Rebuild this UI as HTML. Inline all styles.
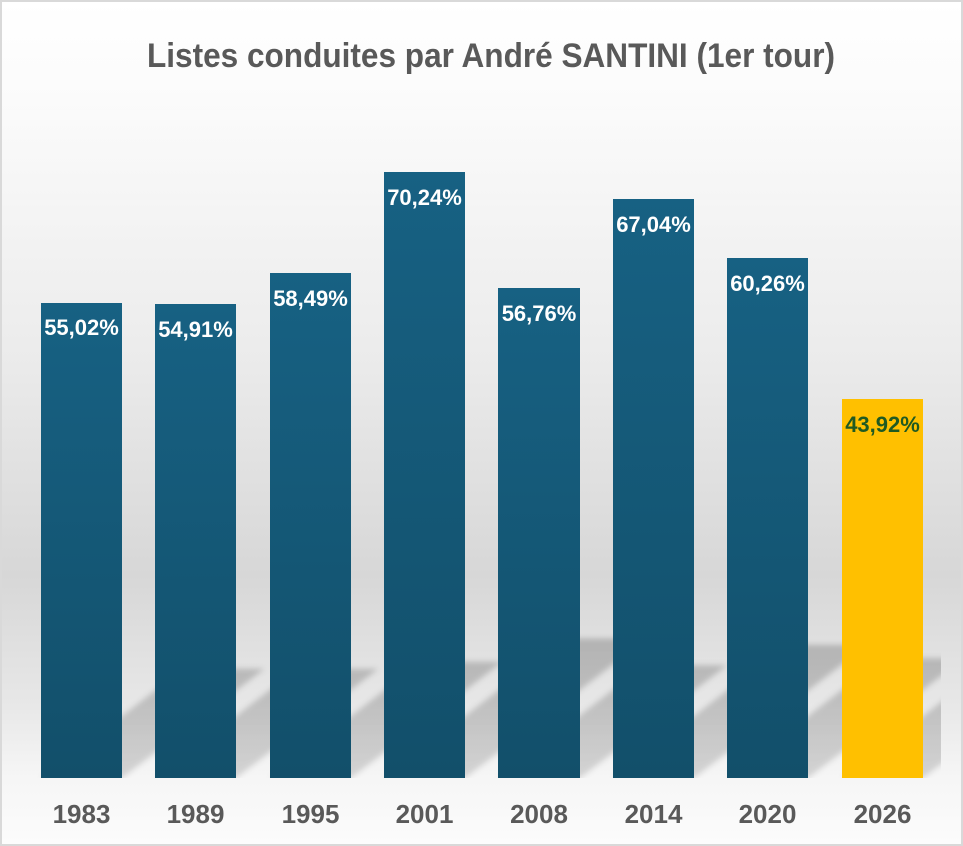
<!DOCTYPE html>
<html>
<head>
<meta charset="utf-8">
<style>
  html,body{margin:0;padding:0;background:#fff;}
  svg{display:block;}
</style>
</head>
<body>
<svg width="963" height="846" viewBox="0 0 963 846" xmlns="http://www.w3.org/2000/svg">
  <defs>
    <linearGradient id="bg" x1="0" y1="0" x2="0" y2="846" gradientUnits="userSpaceOnUse">
      <stop offset="0" stop-color="#ffffff"/>
      <stop offset="0.12" stop-color="#fbfbfb"/>
      <stop offset="0.41" stop-color="#ececec"/>
      <stop offset="0.68" stop-color="#d7d7d7"/>
      <stop offset="0.83" stop-color="#e7e7e7"/>
      <stop offset="0.92" stop-color="#f6f6f6"/>
      <stop offset="1" stop-color="#fcfcfc"/>
    </linearGradient>
    <linearGradient id="blue" x1="0" y1="0" x2="0" y2="1">
      <stop offset="0" stop-color="#176183"/>
      <stop offset="1" stop-color="#124f6a"/>
    </linearGradient>
    <linearGradient id="shg" x1="0" y1="638" x2="0" y2="778" gradientUnits="userSpaceOnUse">
      <stop offset="0" stop-color="#000" stop-opacity="0.2"/>
      <stop offset="1" stop-color="#000" stop-opacity="0.14"/>
    </linearGradient>
    <clipPath id="shclip">
      <rect x="0" y="560" width="941" height="218"/>
    </clipPath>
    <filter id="blur" x="-20%" y="-50%" width="140%" height="200%">
      <feGaussianBlur stdDeviation="3"/>
    </filter>
  </defs>

  <rect x="0" y="0" width="963" height="846" fill="url(#bg)"/>
  <rect x="1" y="1" width="961" height="844" fill="none" stroke="#d9d9d9" stroke-width="2"/>

  <!-- shadows -->
  <g clip-path="url(#shclip)">
    <g filter="url(#blur)" fill="url(#shg)">
      <polygon points="41,778 122,778 264.5,668.7 183.5,668.7"/>
      <polygon points="155,778 236,778 378.2,668.9 297.2,668.9"/>
      <polygon points="270,778 351,778 502.5,661.8 421.5,661.8"/>
      <polygon points="384,778 465,778 647,638.5 566,638.5"/>
      <polygon points="498,778 580,778 727,665.3 645,665.3"/>
      <polygon points="613,778 694,778 867.7,644.9 786.7,644.9"/>
      <polygon points="727,778 808,778 964.1,658.3 883.1,658.3"/>
      <polygon points="842,778 923,778 1036.8,690.8 955.8,690.8"/>
    </g>
  </g>

  <!-- bars -->
  <rect x="41" y="303" width="81" height="475" fill="url(#blue)"/>
  <rect x="155" y="304" width="81" height="474" fill="url(#blue)"/>
  <rect x="270" y="273" width="81" height="505" fill="url(#blue)"/>
  <rect x="384" y="172" width="81" height="606" fill="url(#blue)"/>
  <rect x="498" y="288" width="82" height="490" fill="url(#blue)"/>
  <rect x="613" y="199" width="81" height="579" fill="url(#blue)"/>
  <rect x="727" y="258" width="81" height="520" fill="url(#blue)"/>
  <rect x="842" y="399" width="81" height="379" fill="#ffc000"/>

  <!-- title -->
  <text x="147" y="67" font-family="Liberation Sans, sans-serif" font-weight="bold" font-size="34" fill="#595959" textLength="688" lengthAdjust="spacingAndGlyphs">Listes conduites par André SANTINI (1er tour)</text>

  <!-- data labels -->
  <g font-family="Liberation Sans, sans-serif" font-weight="bold" font-size="22" fill="#ffffff" text-anchor="middle">
    <text x="81.5" y="335">55,02%</text>
    <text x="195.5" y="337">54,91%</text>
    <text x="310.5" y="306">58,49%</text>
    <text x="424.5" y="205">70,24%</text>
    <text x="539" y="321">56,76%</text>
    <text x="653.5" y="232">67,04%</text>
    <text x="767.5" y="291">60,26%</text>
    <text x="882.5" y="432" fill="#1f5a22">43,92%</text>
  </g>

  <!-- axis labels -->
  <g font-family="Liberation Sans, sans-serif" font-weight="bold" font-size="26" fill="#595959" text-anchor="middle">
    <text x="81.5" y="823">1983</text>
    <text x="195.5" y="823">1989</text>
    <text x="310.5" y="823">1995</text>
    <text x="424.5" y="823">2001</text>
    <text x="539" y="823">2008</text>
    <text x="653.5" y="823">2014</text>
    <text x="767.5" y="823">2020</text>
    <text x="882.5" y="823">2026</text>
  </g>
</svg>
</body>
</html>
